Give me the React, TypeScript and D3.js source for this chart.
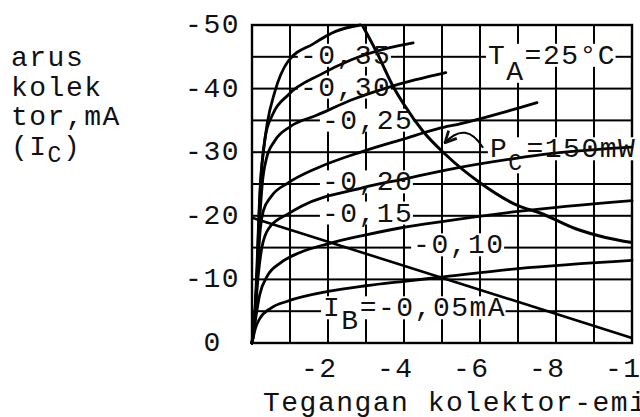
import React from 'react';
import * as d3 from 'd3';

const W = 640;
const H = 417;

// collector characteristic curves, [V_CE (V), I_C (mA)]
const ib035 = [[0,0],[-0.08,-5],[-0.13,-12],[-0.18,-20],[-0.23,-26],[-0.3,-30],[-0.4,-34.5],[-0.6,-39.5],[-0.95,-44.3],[-1.6,-47],[-2.2,-49],[-2.85,-50]];
const ib030 = [[0,0],[-0.1,-6],[-0.15,-14],[-0.2,-22],[-0.26,-28],[-0.35,-32.5],[-0.55,-36],[-0.95,-39],[-1.8,-42.2],[-2.6,-44.5],[-3.6,-46.4],[-4.24,-47.2]];
const ib025 = [[0,0],[-0.1,-6],[-0.15,-13],[-0.2,-19],[-0.27,-25],[-0.38,-29],[-0.6,-31.8],[-1,-34],[-1.7,-35.8],[-2.7,-38.4],[-3.7,-40.4],[-5.1,-42.5]];
const ib020 = [[0,0],[-0.1,-7],[-0.16,-13],[-0.22,-18],[-0.3,-20.8],[-0.5,-23],[-0.96,-25.2],[-1.75,-27.6],[-2.9,-30.1],[-4,-32.1],[-4.9,-33.7],[-5.5,-34.5],[-7.5,-37.8]];
const ib015 = [[0,0],[-0.1,-6],[-0.17,-11],[-0.26,-15],[-0.44,-18],[-0.95,-20.3],[-1.3,-21.5],[-2.9,-24.4],[-4.1,-25.9],[-5.2,-27.3],[-6.9,-29],[-7.9,-29.8],[-10,-30.8]];
const ib010 = [[0,0],[-0.1,-4],[-0.2,-7.5],[-0.4,-10.5],[-0.75,-12.6],[-1.25,-14.2],[-2,-15.6],[-3,-17],[-4,-18.2],[-5,-19.1],[-7,-20.7],[-10,-22.4]];
const ib005 = [[0,0],[-0.1,-2.5],[-0.2,-3.8],[-0.5,-5.5],[-0.95,-6.6],[-2,-8.1],[-3,-9],[-4,-9.7],[-4.9,-10.3],[-7,-11.7],[-10,-13]];

// max dissipation Pc = 150 mW and the load line
const pcMax = [[-2.9,-50],[-3.3,-45.5],[-3.7,-40.5],[-4,-37.5],[-4.5,-33.3],[-5.1,-29.6],[-6,-25.2],[-7,-21.6],[-7.6,-20.4],[-8.5,-18],[-9.3,-16.6],[-10,-15.8]];
const loadLine = [[0,-19.7],[-10,-0.8]];

const ibCurves = [ib035, ib030, ib025, ib020, ib015, ib010, ib005];

const gridStepV = -1;  // V per grid cell
const gridStepI = -5;  // mA per grid cell
const yTickValues = [0, -10, -20, -30, -40, -50];
const xTickValues = [-2, -4, -6, -8, -10];

const curveLabels = [
  { text: '-0,35', v: -1.26, i: -43.9 },
  { text: '-0,30', v: -1.26, i: -38.9 },
  { text: '-0,25', v: -1.84, i: -33.7 },
  { text: '-0,20', v: -1.84, i: -24.0 },
  { text: '-0,15', v: -1.84, i: -19.1 },
  { text: '-0,10', v: -4.24, i: -14.1 },
];

const yTitle = ['arus', 'kolek', 'tor,mA'];
const xTitle = 'Tegangan kolektor-emitor, V';

const FONT = "'Liberation Mono', 'DejaVu Sans Mono', monospace";
const FS = 28;
const LS = 1.5;
const PITCH = FS * 0.6 + LS;

export default function App() {
  const x = d3.scaleLinear().domain([0, -10]).range([252, 632]);
  const y = d3.scaleLinear().domain([0, -50]).range([343, 25]);
  const line = d3.line<number[]>().x(d => x(d[0])).y(d => y(d[1])).curve(d3.curveMonotoneX);
  const straight = d3.line<number[]>().x(d => x(d[0])).y(d => y(d[1]));

  const textStyle = { fontFamily: FONT, fontSize: FS, letterSpacing: LS, fill: '#111' } as const;

  const cellW = x(gridStepV) - x(0);
  const cellH = y(0) - y(gridStepI);

  // subscripted annotations
  const ta = { v: -6.21, i: -43.9 };
  const pc = { v: -6.26, i: -29.2 };
  const ib = { v: -1.87, i: -4.2 };

  const arrow = `M${x(-6.08)},${y(-30.7)} Q${x(-5.63)},${y(-35)} ${x(-5.08)},${y(-31.5)}`;

  const bg = (px: number, base: number, n: number, key: string) => (
    <rect key={key} x={px - 2} y={base - 20} width={n * PITCH - LS + 3} height={23} fill="#fff" />
  );

  return (
    <svg width={W} height={H} style={{ position: 'absolute', left: 0, top: 0, background: '#fff' }}>
      <defs>
        <pattern id="gridcell" patternUnits="userSpaceOnUse" x={x(0)} y={y(-50)} width={cellW} height={cellH}>
          <rect x={0} y={0} width={cellW} height={cellH} fill="#fff" />
          <rect x={-1} y={0} width={2} height={cellH} fill="#000" />
          <rect x={cellW - 1} y={0} width={2} height={cellH} fill="#000" />
          <rect x={0} y={-1} width={cellW} height={2} fill="#000" />
          <rect x={0} y={cellH - 1} width={cellW} height={2} fill="#000" />
        </pattern>
        <marker id="ah" viewBox="0 0 10 10" refX="9" refY="5" markerWidth="7" markerHeight="7" orient="auto">
          <path d="M1,1 L9,5 L1,9" fill="none" stroke="#111" strokeWidth="2" />
        </marker>
      </defs>

      {/* grid as a tiled fill, then the frame */}
      <rect x={x(0)} y={y(-50)} width={x(-10) - x(0)} height={y(0) - y(-50)} fill="url(#gridcell)" />
      <rect x={x(0)} y={y(-50)} width={x(-10) - x(0)} height={y(0) - y(-50)} fill="none" stroke="#000" strokeWidth={2.4} />

      {/* white patches behind the labels */}
      {curveLabels.map(l => bg(x(l.v), y(l.i), l.text.length, 'b' + l.text))}
      {bg(x(ta.v), y(ta.i), 7, 'bta')}
      {bg(x(ta.v) + PITCH, y(ta.i) + 16, 1, 'bta2')}
      {bg(x(pc.v), y(pc.i), 8, 'bpc')}
      {bg(x(pc.v) + PITCH, y(pc.i) + 13, 1, 'bpc2')}
      {bg(x(ib.v), y(ib.i), 10, 'bib')}
      {bg(x(ib.v) + PITCH, y(ib.i) + 13, 1, 'bib2')}

      {/* curves */}
      <g fill="none" stroke="#000">
        {ibCurves.map((c, k) => (
          <path key={'c' + k} d={line(c) || ''} strokeWidth={2.8} strokeLinecap="round" />
        ))}
        <path d={line(pcMax) || ''} strokeWidth={3} />
        <path d={straight(loadLine) || ''} strokeWidth={2.6} />
        <path d={arrow} strokeWidth={2} markerEnd="url(#ah)" />
      </g>

      {/* curve labels */}
      {curveLabels.map(l => (
        <text key={l.text} x={x(l.v)} y={y(l.i)} style={textStyle}>{l.text}</text>
      ))}
      <text x={x(ta.v)} y={y(ta.i)} style={textStyle}>
        T<tspan dy={16}>A</tspan><tspan dy={-16}>=25°C</tspan>
      </text>
      <text x={x(pc.v)} y={y(pc.i)} style={textStyle}>
        P<tspan dy={13} fontSize={23}>C</tspan><tspan dy={-13} x={x(pc.v) + 2 * PITCH}>=150mW</tspan>
      </text>
      <text x={x(ib.v)} y={y(ib.i)} style={textStyle}>
        I<tspan dy={13}>B</tspan><tspan dy={-13}>=-0,05mA</tspan>
      </text>

      {/* y axis */}
      {yTickValues.map(t => (
        <text key={'yt' + t} x={t === 0 ? 240 - PITCH : 240} y={y(t) + 8} textAnchor="end" style={textStyle}>
          {t === 0 ? '0' : String(t)}
        </text>
      ))}
      {yTitle.map((s, k) => (
        <text key={s} x={11} y={66 + k * 29.5} style={textStyle}>{s}</text>
      ))}
      <text x={11} y={66 + 3 * 29.5} style={textStyle}>
        (I<tspan dy={7} fontSize={23}>C</tspan><tspan dy={-7}>)</tspan>
      </text>

      {/* x axis */}
      {xTickValues.map(t => (
        <text key={'xt' + t} x={x(t) - 27} y={377} style={textStyle}>{String(t)}</text>
      ))}
      <text x={263} y={411} style={textStyle}>{xTitle}</text>
    </svg>
  );
}
